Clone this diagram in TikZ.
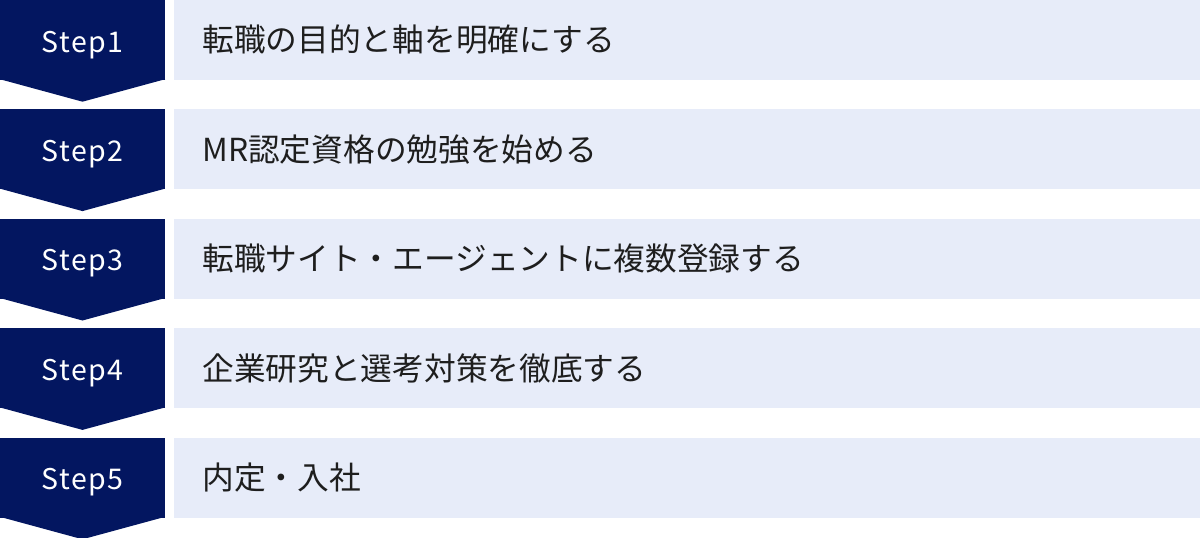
\documentclass[tikz,border=0pt]{standalone}
\usepackage{fontspec}
\setmainfont{Noto Sans CJK JP}
\newfontfamily\stepfont[LetterSpace=5]{Noto Sans CJK JP}
\usetikzlibrary{positioning}
\definecolor{navy}{HTML}{031660}
\definecolor{paleblue}{HTML}{E7ECF9}
\definecolor{inktext}{HTML}{1E1E1E}

\begin{document}
\begin{tikzpicture}
  [x=1pt,y=1pt,
   node distance=29pt and 9pt,
   stepbox/.style={fill=navy,text=white,minimum width=165pt,minimum height=80pt,
     inner sep=0pt,text height=24pt,text depth=0pt,
     font=\stepfont\fontsize{28.5}{30}\selectfont},
   itembox/.style={fill=paleblue,text=inktext,minimum height=80pt,text width=970pt,
     inner xsep=28pt,inner ysep=0pt,align=left,font=\fontsize{31.7}{34}\selectfont},
   tip/.style={fill=navy}]
  \useasboundingbox (0,0) rectangle (1200,-538);

  \node[stepbox] (step1) at (82.5,-40)    {Step1};
  \node[stepbox] (step2) [below=of step1] {Step2};
  \node[stepbox] (step3) [below=of step2] {Step3};
  \node[stepbox] (step4) [below=of step3] {Step4};
  \node[stepbox] (step5) [below=of step4] {Step5};

  \node[itembox] (goal)    [right=of step1] {転職の目的と軸を明確にする};
  \node[itembox] (mr)      [right=of step2] {MR認定資格の勉強を始める};
  \node[itembox] (agent)   [right=of step3] {転職サイト・エージェントに複数登録する};
  \node[itembox] (prepare) [right=of step4] {企業研究と選考対策を徹底する};
  \node[itembox] (offer)   [right=of step5] {内定・入社};

  \fill[tip] ([yshift=1pt]step1.south west) -- ([yshift=1pt]step1.south east) -- ([yshift=-21.5pt]step1.south) -- cycle;
  \fill[tip] ([yshift=1pt]step2.south west) -- ([yshift=1pt]step2.south east) -- ([yshift=-21.5pt]step2.south) -- cycle;
  \fill[tip] ([yshift=1pt]step3.south west) -- ([yshift=1pt]step3.south east) -- ([yshift=-21.5pt]step3.south) -- cycle;
  \fill[tip] ([yshift=1pt]step4.south west) -- ([yshift=1pt]step4.south east) -- ([yshift=-21.5pt]step4.south) -- cycle;
  \fill[tip] ([yshift=1pt]step5.south west) -- ([yshift=1pt]step5.south east) -- ([yshift=-21.5pt]step5.south) -- cycle;
\end{tikzpicture}
\end{document}
